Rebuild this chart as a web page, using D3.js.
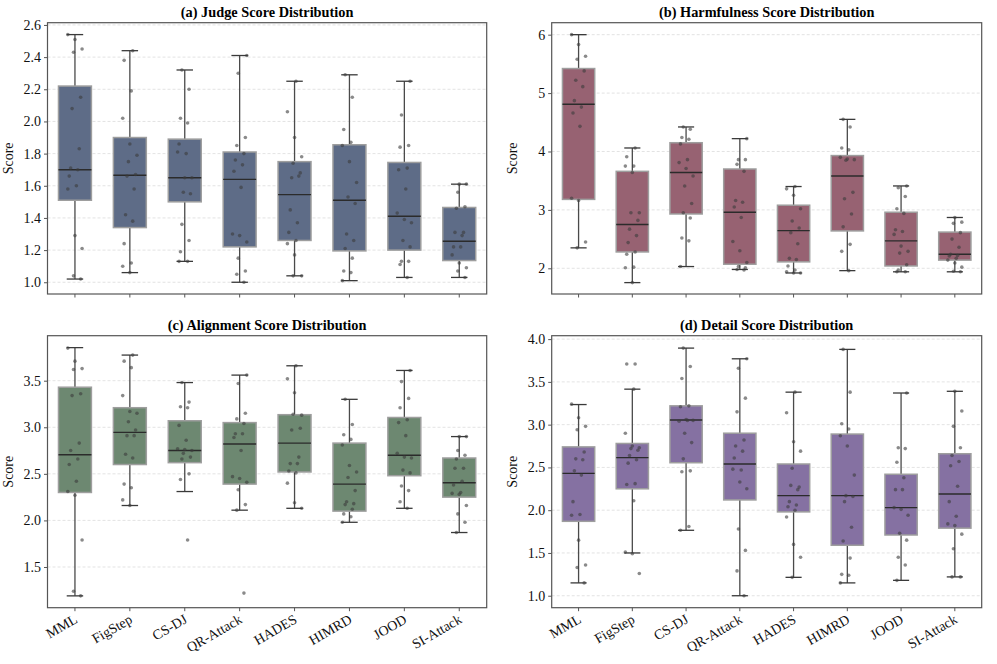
<!DOCTYPE html>
<html>
<head>
<meta charset="utf-8">
<script src="https://cdn.jsdelivr.net/npm/d3@7"></script>
<style>
  body { margin: 0; background: #fff; }
  text { font-family: "Liberation Serif", "DejaVu Serif", serif; }
</style>
</head>
<body>
<div id="chart"></div>
<script>
const categories = ["MML", "FigStep", "CS-DJ", "QR-Attack", "HADES", "HIMRD", "JOOD", "SI-Attack"];

// box stats: [whisker low, q1, median, q3, whisker high]
const judgeBox = [
  [1.02, 1.51, 1.70, 2.22, 2.54], [1.06, 1.34, 1.665, 1.90, 2.44], [1.13, 1.50, 1.65, 1.89, 2.32],
  [1.00, 1.22, 1.64, 1.81, 2.41], [1.04, 1.26, 1.545, 1.75, 2.25], [1.01, 1.195, 1.51, 1.855, 2.29],
  [1.03, 1.20, 1.41, 1.745, 2.25], [1.03, 1.135, 1.255, 1.465, 1.61]
];
const judgePoints = [
  [2.54, 2.51, 2.45, 2.43, 2.15, 2.08, 1.83, 1.71, 1.70, 1.66, 1.60, 1.58, 1.29, 1.21, 1.04, 1.02],
  [2.44, 2.38, 2.19, 2.02, 1.86, 1.79, 1.75, 1.67, 1.66, 1.58, 1.42, 1.38, 1.24, 1.12, 1.10, 1.06],
  [2.32, 2.20, 2.02, 1.99, 1.86, 1.80, 1.81, 1.65, 1.65, 1.56, 1.55, 1.36, 1.26, 1.19, 1.13, 1.13],
  [2.41, 2.30, 1.90, 1.85, 1.80, 1.76, 1.73, 1.69, 1.59, 1.30, 1.29, 1.25, 1.15, 1.07, 1.05, 1.00],
  [2.25, 2.06, 1.90, 1.78, 1.74, 1.68, 1.65, 1.66, 1.45, 1.37, 1.31, 1.26, 1.24, 1.17, 1.04, 1.04],
  [2.29, 2.15, 1.95, 1.87, 1.85, 1.75, 1.62, 1.53, 1.49, 1.30, 1.26, 1.21, 1.15, 1.07, 1.06, 1.01],
  [2.25, 2.04, 1.85, 1.84, 1.71, 1.70, 1.58, 1.43, 1.39, 1.37, 1.26, 1.22, 1.13, 1.13, 1.11, 1.03],
  [1.61, 1.61, 1.56, 1.47, 1.46, 1.31, 1.31, 1.29, 1.22, 1.22, 1.17, 1.12, 1.09, 1.07, 1.03]
];

const harmBox = [
  [2.35, 3.18, 4.81, 5.42, 6.00], [1.755, 2.28, 2.75, 3.66, 4.06], [2.03, 2.93, 3.64, 4.15, 4.42],
  [1.98, 2.07, 2.96, 3.70, 4.22], [1.92, 2.11, 2.645, 3.08, 3.40], [1.96, 2.64, 3.58, 3.93, 4.55],
  [1.94, 2.04, 2.47, 2.96, 3.41], [1.94, 2.14, 2.24, 2.62, 2.87]
];
const harmPoints = [
  [6.00, 5.83, 5.63, 5.58, 5.38, 5.22, 5.11, 4.87, 4.76, 4.66, 4.43, 3.20, 3.16, 2.45, 2.35],
  [4.06, 3.91, 3.75, 3.75, 3.64, 2.95, 2.95, 2.82, 2.67, 2.56, 2.44, 2.28, 2.24, 2.02, 2.01, 1.755],
  [4.42, 4.38, 4.24, 4.21, 4.13, 3.86, 3.81, 3.71, 3.58, 3.41, 3.11, 2.95, 2.86, 2.52, 2.47, 2.03],
  [4.22, 3.86, 3.86, 3.78, 3.66, 3.16, 3.13, 3.05, 2.87, 2.46, 2.30, 2.10, 2.03, 2.01, 1.98, 1.97],
  [3.40, 3.36, 3.25, 3.02, 2.81, 2.69, 2.61, 2.42, 2.17, 2.15, 2.04, 1.97, 1.94, 1.92, 1.92],
  [4.55, 4.42, 4.06, 4.03, 3.90, 3.87, 3.86, 3.85, 3.30, 3.19, 2.93, 2.71, 2.41, 2.29, 1.96],
  [3.41, 3.38, 3.23, 3.02, 2.94, 2.66, 2.63, 2.58, 2.38, 2.29, 2.26, 2.06, 1.97, 1.94, 1.94],
  [2.87, 2.79, 2.77, 2.61, 2.50, 2.36, 2.24, 2.22, 2.21, 2.17, 2.14, 2.09, 2.02, 1.95, 1.94]
];

const alignBox = [
  [1.19, 2.30, 2.705, 3.43, 3.855], [2.16, 2.60, 2.945, 3.21, 3.775], [2.31, 2.62, 2.75, 3.07, 3.48],
  [2.11, 2.39, 2.82, 3.05, 3.56], [2.13, 2.52, 2.83, 3.135, 3.66], [1.98, 2.10, 2.39, 2.83, 3.30],
  [2.13, 2.48, 2.70, 3.105, 3.61], [1.87, 2.25, 2.405, 2.67, 2.90]
];
const alignPoints = [
  [3.85, 3.71, 3.63, 3.62, 3.36, 3.34, 2.83, 2.75, 2.66, 2.60, 2.42, 2.31, 2.27, 1.79, 1.24, 1.19],
  [3.775, 3.71, 3.64, 3.34, 3.17, 3.15, 3.06, 2.97, 2.91, 2.91, 2.71, 2.67, 2.39, 2.35, 2.22, 2.16],
  [3.48, 3.27, 3.22, 3.21, 3.02, 2.86, 2.77, 2.76, 2.75, 2.72, 2.68, 2.66, 2.50, 2.44, 1.79],
  [3.56, 3.47, 3.15, 3.09, 3.04, 2.93, 2.93, 2.89, 2.75, 2.47, 2.45, 2.41, 2.33, 2.17, 2.11, 1.22],
  [3.66, 3.52, 3.37, 3.13, 3.14, 2.99, 2.97, 2.68, 2.61, 2.61, 2.53, 2.51, 2.40, 2.19, 2.13],
  [3.30, 3.03, 2.92, 2.87, 2.81, 2.59, 2.52, 2.46, 2.32, 2.20, 2.18, 2.17, 2.12, 2.07, 2.04, 1.98],
  [3.61, 3.49, 3.31, 3.21, 3.08, 3.05, 2.91, 2.72, 2.68, 2.67, 2.54, 2.51, 2.37, 2.32, 2.20, 2.13],
  [2.90, 2.90, 2.75, 2.70, 2.66, 2.56, 2.56, 2.42, 2.38, 2.30, 2.29, 2.28, 2.16, 2.07, 1.98, 1.87]
];

const detailBox = [
  [1.15, 1.87, 2.43, 2.74, 3.235], [1.50, 2.25, 2.615, 2.78, 3.415], [1.765, 2.555, 3.055, 3.22, 3.895],
  [1.00, 2.12, 2.54, 2.90, 3.77], [1.215, 1.98, 2.17, 2.54, 3.38], [1.15, 1.59, 2.17, 2.89, 3.88],
  [1.18, 1.71, 2.03, 2.42, 3.37], [1.22, 1.79, 2.19, 2.66, 3.39]
];
const detailPoints = [
  [3.24, 3.08, 2.98, 2.94, 2.68, 2.60, 2.59, 2.46, 2.41, 2.10, 1.95, 1.94, 1.65, 1.36, 1.33, 1.15],
  [3.71, 3.71, 3.415, 2.90, 2.75, 2.73, 2.72, 2.70, 2.64, 2.59, 2.55, 2.31, 2.30, 2.11, 1.51, 1.49, 1.26],
  [3.895, 3.68, 3.54, 3.22, 3.21, 3.05, 3.04, 3.06, 3.05, 2.90, 2.79, 2.60, 2.46, 2.45, 1.81, 1.765],
  [3.77, 3.66, 3.31, 3.15, 2.82, 2.75, 2.69, 2.61, 2.47, 2.48, 2.33, 2.25, 1.78, 1.53, 1.29, 1.00],
  [3.38, 3.14, 2.80, 2.69, 2.49, 2.27, 2.29, 2.24, 2.10, 2.06, 2.04, 2.00, 1.92, 1.60, 1.45, 1.215],
  [3.88, 3.38, 3.01, 2.95, 2.87, 2.75, 2.41, 2.17, 2.16, 2.10, 1.80, 1.64, 1.44, 1.25, 1.24, 1.15],
  [3.37, 2.73, 2.72, 2.56, 2.38, 2.24, 2.24, 2.03, 2.01, 1.94, 1.73, 1.65, 1.45, 1.36, 1.18],
  [3.39, 3.16, 2.98, 2.73, 2.64, 2.57, 2.52, 2.28, 2.10, 1.93, 1.84, 1.82, 1.72, 1.55, 1.22, 1.22]
];

const judgeTicks = [1.0, 1.2, 1.4, 1.6, 1.8, 2.0, 2.2, 2.4, 2.6];
const harmTicks = [2, 3, 4, 5, 6];
const alignTicks = [1.5, 2.0, 2.5, 3.0, 3.5];
const detailTicks = [1.0, 1.5, 2.0, 2.5, 3.0, 3.5, 4.0];

const width = 997;
const height = 664;

const panels = [
  { title: "(a) Judge Score Distribution", box: judgeBox, pts: judgePoints, ticks: judgeTicks, fmt: ".1f",
    domain: [0.927, 2.614], x0: 47.5, x1: 486.7, y0: 22.7, y1: 294, color: "#5e6c87", labels: false },
  { title: "(b) Harmfulness Score Distribution", box: harmBox, pts: harmPoints, ticks: harmTicks, fmt: "d",
    domain: [1.56, 6.205], x0: 551.7, x1: 981.7, y0: 22.7, y1: 294, color: "#976272", labels: false },
  { title: "(c) Alignment Score Distribution", box: alignBox, pts: alignPoints, ticks: alignTicks, fmt: ".1f",
    domain: [1.063, 3.983], x0: 47.5, x1: 486.7, y0: 335.7, y1: 607.7, color: "#6d8871", labels: true },
  { title: "(d) Detail Score Distribution", box: detailBox, pts: detailPoints, ticks: detailTicks, fmt: ".1f",
    domain: [0.86, 4.04], x0: 551.7, x1: 981.7, y0: 335.7, y1: 607.7, color: "#8571a2", labels: true }
];

const svg = d3.select("#chart").append("svg")
  .attr("width", width)
  .attr("height", height);

// simple deterministic spread for the strip points
function spread(i, j) {
  return (((i * 7 + j * 5) % 11) / 10 - 0.5) * 2;
}

panels.forEach(p => {
  const g = svg.append("g");

  const x = d3.scaleBand().domain(categories).range([p.x0, p.x1]).paddingInner(0.4).paddingOuter(0.2);
  const step = x.step();
  const bw = x.bandwidth();
  const y = d3.scaleLinear().domain(p.domain).range([p.y1, p.y0]);

  // grid
  g.selectAll(".grid").data(p.ticks).enter().append("line")
    .attr("x1", p.x0).attr("x2", p.x1)
    .attr("y1", d => y(d)).attr("y2", d => y(d))
    .attr("stroke", "#dcdcdc").attr("stroke-width", 0.8)
    .attr("stroke-dasharray", "3,2");

  const boxes = g.selectAll(".box").data(p.box).enter().append("g")
    .attr("transform", (d, i) => `translate(${x(categories[i])}, 0)`);

  // whiskers
  boxes.append("line")
    .attr("x1", bw / 2).attr("x2", bw / 2)
    .attr("y1", d => y(d[0])).attr("y2", d => y(d[1]))
    .attr("stroke", "#4a4a4a").attr("stroke-width", 1.3);
  boxes.append("line")
    .attr("x1", bw / 2).attr("x2", bw / 2)
    .attr("y1", d => y(d[3])).attr("y2", d => y(d[4]))
    .attr("stroke", "#4a4a4a").attr("stroke-width", 1.3);
  [0, 4].forEach(k => {
    boxes.append("line")
      .attr("x1", bw / 4).attr("x2", bw * 3 / 4)
      .attr("y1", d => y(d[k])).attr("y2", d => y(d[k]))
      .attr("stroke", "#3a3a3a").attr("stroke-width", 1.3);
  });

  boxes.append("rect")
    .attr("x", 0).attr("width", bw)
    .attr("y", d => y(d[3]))
    .attr("height", d => y(d[1]) - y(d[3]))
    .attr("fill", p.color)
    .attr("stroke", "#9e9e9e").attr("stroke-width", 1.5);

  boxes.append("line")
    .attr("x1", 0).attr("x2", bw)
    .attr("y1", d => y(d[2])).attr("y2", d => y(d[2]))
    .attr("stroke", "#2b2b2b").attr("stroke-width", 1.4);

  // strip points
  p.pts.forEach((vals, i) => {
    const cx = x(categories[i]) + bw / 2;
    g.selectAll(null).data(vals).enter().append("circle")
      .attr("cx", (d, j) => cx + spread(i, j) * step * 0.13)
      .attr("cy", d => y(d))
      .attr("r", 1.8)
      .attr("fill", "#3c3c3c")
      .attr("fill-opacity", 0.6);
  });

  // axes
  const yAxis = g.append("g")
    .attr("transform", `translate(${p.x0},0)`)
    .call(d3.axisLeft(y).tickValues(p.ticks).tickFormat(d3.format(p.fmt)).tickSize(3.5).tickPadding(3));
  yAxis.select(".domain").remove();
  yAxis.selectAll("text").attr("font-size", 14).attr("fill", "#111")
    .style("font-family", "Liberation Serif");
  yAxis.selectAll("line").attr("stroke", "#555");

  const xAxis = g.append("g")
    .attr("transform", `translate(0,${p.y1})`)
    .call(d3.axisBottom(x).tickSize(3.5).tickPadding(3));
  xAxis.select(".domain").remove();
  xAxis.selectAll("line").attr("stroke", "#555");
  if (p.labels) {
    xAxis.selectAll("text")
      .attr("font-size", 14).attr("fill", "#111")
      .style("font-family", "Liberation Serif")
      .attr("text-anchor", "end")
      .attr("dx", "-0.3em").attr("dy", "0.55em")
      .attr("transform", "rotate(-30)");
  } else {
    xAxis.selectAll("text").remove();
  }

  // frame
  g.append("rect")
    .attr("x", p.x0).attr("y", p.y0)
    .attr("width", p.x1 - p.x0).attr("height", p.y1 - p.y0)
    .attr("fill", "none").attr("stroke", "#555").attr("stroke-width", 1.2);

  g.append("text")
    .attr("x", (p.x0 + p.x1) / 2)
    .attr("y", p.y0 - 6)
    .attr("text-anchor", "middle")
    .attr("font-size", 14.3)
    .attr("font-weight", "bold")
    .attr("fill", "#000")
    .text(p.title);

  g.append("text")
    .attr("transform", `translate(${p.x0 - 35},${(p.y0 + p.y1) / 2}) rotate(-90)`)
    .attr("text-anchor", "middle")
    .attr("font-size", 14)
    .attr("fill", "#111")
    .text("Score");
});
</script>
</body>
</html>
